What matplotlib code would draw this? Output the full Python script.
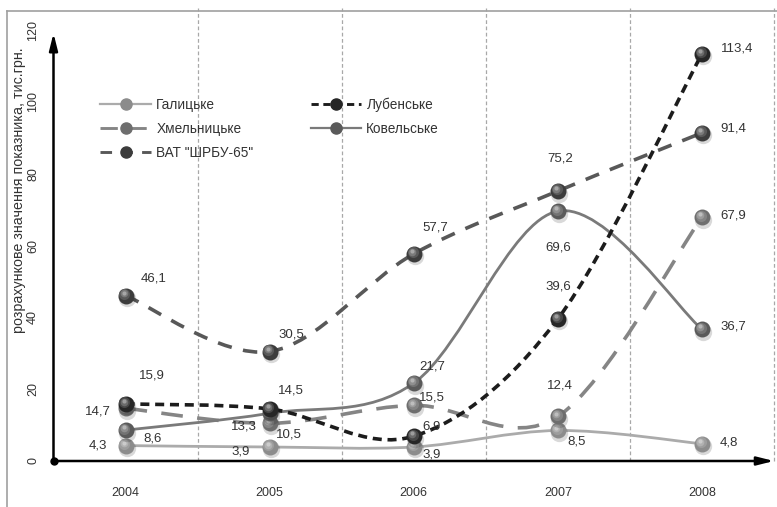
import numpy as np
import matplotlib
matplotlib.use('Agg')
import matplotlib.pyplot as plt
from matplotlib.path import Path
from matplotlib.patches import PathPatch
from matplotlib.lines import Line2D
from matplotlib import transforms
from matplotlib.colors import to_rgb

plt.rcParams['font.family'] = ['Liberation Sans', 'DejaVu Sans']

years = ['2004', '2005', '2006', '2007', '2008']
galytske = [4.3, 3.9, 3.9, 8.5, 4.8]
khmelnytske = [14.7, 10.5, 15.5, 12.4, 67.9]
kovelske = [8.6, 13.3, 21.7, 69.6, 36.7]
lubenske = [15.9, 14.5, 6.9, 39.6, 113.4]
shrbu = [46.1, 30.5, 57.7, 75.2, 91.4]
names = ['Галицьке', 'Хмельницьке', 'Ковельське', 'Лубенське', 'ВАТ "ШРБУ-65"']

# стилі ліній: колір лінії, колір кульки, товщина, штрих
styles = {
    'Галицьке': ('#ababab', '#8c8c8c', 2.0, None),
    'Хмельницьке': ('#858585', '#6e6e6e', 2.6, (0, (6, 4))),
    'Ковельське': ('#7a7a7a', '#5a5a5a', 2.0, None),
    'Лубенське': ('#1c1c1c', '#262626', 2.6, (0, (2.5, 1.6))),
    'ВАТ "ШРБУ-65"': ('#585858', '#3c3c3c', 2.6, (0, (4, 3.2))),
}
# зсуви підписів у пікселях
offsets = {
    'Галицьке': [(-28, 0), (-29, -5), (18, -8), (19, -11), (27, 1)],
    'Хмельницьке': [(-28, -3), (19, -11), (18, 8), (2, 31), (31, 2)],
    'Ковельське': [(27, -8), (-26, -13), (18, 17), (0, -36), (31, 3)],
    'Лубенське': [(26, 28), (21, 18), (18, 10), (0, 32), (35, 5)],
    'ВАТ "ШРБУ-65"': [(28, 17), (22, 17), (22, 26), (2, 33), (31, 4)],
}
series = dict(zip(names, [galytske, khmelnytske, kovelske, lubenske, shrbu]))


def smooth_path(xs, ys):
    pts = np.column_stack([xs, ys]).astype(float)
    n = len(pts)
    verts = [pts[0]]
    codes = [Path.MOVETO]
    for i in range(n - 1):
        p0 = pts[max(i - 1, 0)]
        p1 = pts[i]
        p2 = pts[i + 1]
        p3 = pts[min(i + 2, n - 1)]
        verts += [p1 + (p2 - p0) / 6, p2 - (p3 - p1) / 6, p2]
        codes += [Path.CURVE4] * 3
    return Path(verts, codes)


def blend(c, t):
    c = np.array(to_rgb(c))
    return tuple(c + (1 - c) * t)


fig = plt.figure(figsize=(7.77, 5.07), dpi=100)
ax = fig.add_axes([53.5 / 777, 1 - 461 / 507, 720.5 / 777, 430.8 / 507])
x = np.arange(len(years))


def spheres(xs, ys, base, zo):
    sh = transforms.offset_copy(ax.transData, fig=fig, x=1, y=-2.5, units='dots')
    ax.plot(xs, ys, 'o', ms=12.5, color='#000000', alpha=0.15, mew=0, transform=sh, zorder=zo, clip_on=False)
    ax.plot(xs, ys, 'o', ms=11.5, color=base, mew=0, zorder=zo + 0.1, clip_on=False)
    for k, (s, t) in enumerate([(8, 0.15), (5.5, 0.32), (3, 0.55)]):
        hl = transforms.offset_copy(ax.transData, fig=fig, x=-1.2 - 0.4 * k, y=1.6 + 0.6 * k, units='dots')
        ax.plot(xs, ys, 'o', ms=s, color=blend(base, t), mew=0, transform=hl, zorder=zo + 0.2 + k * 0.01, clip_on=False)


handles = {}
for i, name in enumerate(names):
    vals = series[name]
    lc, mc, lw, ls = styles[name]
    patch = PathPatch(smooth_path(x, vals), fill=False, edgecolor=lc, lw=lw,
                      linestyle=ls if ls else '-', zorder=3 + i * 0.1, capstyle='butt')
    ax.add_patch(patch)
    spheres(x, vals, mc, 6 + i)
    for xi, v, (dx, dy) in zip(x, vals, offsets[name]):
        ax.annotate(f'{v:.1f}'.replace('.', ','), (xi, v), xytext=(dx, dy),
                    textcoords='offset pixels', ha='center', va='center',
                    fontsize=9.5, color='#333333', zorder=20)
    handles[name] = Line2D([], [], color=lc, lw=lw * 0.8, linestyle=ls if ls else '-',
                           marker='o', ms=8, mfc=mc, mec=mc)

ax.set_xlim(-0.5, 4.5)
ax.set_ylim(0, 120)
ax.set_xticks(x)
ax.set_xticklabels(years)
ax.set_yticks(np.arange(0, 121, 20))
ax.tick_params(axis='x', length=0, pad=19, labelsize=9, labelcolor='#333333')
ax.tick_params(axis='y', length=0, pad=10.4, labelsize=9, labelcolor='#333333')
for lab in ax.get_yticklabels():
    lab.set_rotation(90)
    lab.set_va('center')
for sp in ax.spines.values():
    sp.set_visible(False)

# вертикальні пунктирні лінії між роками
for b in np.arange(0.5, 5, 1):
    ax.axvline(b, ymin=0, ymax=1.052, color='#a8a8a8', lw=0.9, ls=(0, (3, 2)), clip_on=False, zorder=1)

# осі зі стрілками
ax.annotate('', xy=(1.0, 0), xytext=(0, 0), xycoords='axes fraction',
            arrowprops=dict(arrowstyle='-|>,head_width=0.25,head_length=1.0', color='black', lw=1.8,
                            shrinkA=0, shrinkB=0), zorder=15)
ax.annotate('', xy=(0, 0.993), xytext=(0, 0), xycoords='axes fraction',
            arrowprops=dict(arrowstyle='-|>,head_width=0.25,head_length=1.0', color='black', lw=1.8,
                            shrinkA=0, shrinkB=0), zorder=15)
ax.plot([0], [0], 'o', ms=5, color='black', transform=ax.transAxes, clip_on=False, zorder=16)

fig.text(19 / 777, 1 - 190 / 507, 'розрахункове значення показника, тис.грн.', rotation=90,
         ha='center', va='center', fontsize=10.3, color='#333333')

order = ['Галицьке', 'Хмельницьке', 'ВАТ "ШРБУ-65"', 'Лубенське', 'Ковельське']
ax.legend([handles[n] for n in order], order, ncol=2, frameon=False, loc='upper left',
          bbox_to_anchor=(0.0576, 0.856), borderaxespad=0, fontsize=9.8, handlelength=3.7,
          handletextpad=0.4, labelspacing=0.72, columnspacing=4.2, labelcolor='#333333')

# рамка
fig.add_artist(Line2D([7 / 777, 7 / 777], [0, 1 - 11 / 507], color='#a0a0a0', lw=1.2))
fig.add_artist(Line2D([7 / 777, 1], [1 - 11 / 507, 1 - 11 / 507], color='#a0a0a0', lw=1.2))

fig.savefig('out.png', dpi=100)
